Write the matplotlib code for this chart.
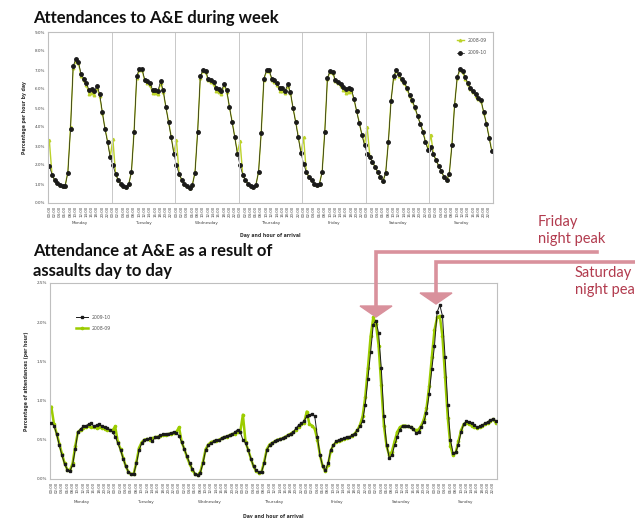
import matplotlib
matplotlib.use("Agg")
from matplotlib import pyplot as plt
from matplotlib.lines import Line2D
from matplotlib.patches import Polygon
import numpy as np

days = ["Monday", "Tuesday", "Wednesday", "Thursday", "Friday", "Saturday", "Sunday"]
hour_labels = ["%02d:00" % h for h in range(0, 24, 2)]

# percentage per hour by day (top chart)
top_0910 = [
    [1.95, 1.5, 1.2, 1.05, 0.95, 0.88, 0.92, 1.6, 3.9, 7.2, 7.6, 7.4, 6.8, 6.55, 6.3, 5.95, 6.0, 5.9, 6.15, 5.75, 4.8, 3.9, 3.2, 2.4],
    [1.98, 1.54, 1.2, 1.02, 0.88, 0.82, 1.0, 1.63, 3.75, 6.7, 7.05, 7.05, 6.5, 6.4, 6.3, 5.96, 5.96, 5.9, 6.4, 5.93, 5.05, 4.26, 3.47, 2.6],
    [1.98, 1.52, 1.22, 1.0, 0.88, 0.8, 0.95, 1.6, 3.74, 6.67, 7.0, 6.95, 6.54, 6.45, 6.37, 6.07, 6.0, 5.9, 6.28, 5.93, 5.05, 4.26, 3.47, 2.6],
    [1.98, 1.5, 1.2, 1.02, 0.88, 0.82, 0.95, 1.65, 3.7, 6.55, 6.98, 6.98, 6.55, 6.45, 6.3, 6.05, 6.05, 5.9, 6.25, 5.85, 5.0, 4.25, 3.45, 2.62],
    [2.07, 1.63, 1.37, 1.19, 1.02, 0.93, 1.02, 1.63, 3.74, 6.6, 6.95, 6.9, 6.45, 6.37, 6.28, 6.1, 6.0, 6.07, 6.02, 5.5, 4.84, 4.2, 3.6, 3.04],
    [2.6, 2.4, 2.15, 1.9, 1.62, 1.35, 1.15, 1.6, 3.2, 5.35, 6.67, 7.0, 6.77, 6.54, 6.37, 6.07, 5.7, 5.4, 5.05, 4.6, 4.17, 3.74, 3.2, 2.8],
    [2.95, 2.56, 2.25, 1.95, 1.68, 1.37, 1.19, 1.54, 3.04, 5.14, 6.63, 7.07, 6.95, 6.63, 6.3, 6.07, 5.9, 5.72, 5.54, 5.4, 4.79, 4.17, 3.44, 2.74],
]
top_0809 = [
    [3.3, 1.5, 1.2, 1.05, 0.95, 0.88, 0.92, 1.65, 4.0, 7.1, 7.5, 7.35, 6.7, 6.45, 6.2, 5.75, 5.8, 5.7, 6.05, 5.65, 4.75, 3.95, 3.25, 2.45],
    [3.35, 1.55, 1.2, 1.02, 0.88, 0.82, 1.0, 1.65, 3.8, 6.6, 7.0, 7.0, 6.45, 6.3, 6.2, 5.8, 5.8, 5.75, 6.3, 5.85, 5.05, 4.3, 3.5, 2.65],
    [3.3, 1.52, 1.22, 1.0, 0.88, 0.8, 0.95, 1.62, 3.8, 6.6, 6.95, 6.9, 6.45, 6.35, 6.25, 5.9, 5.85, 5.75, 6.2, 5.85, 5.05, 4.3, 3.5, 2.65],
    [3.25, 1.5, 1.2, 1.02, 0.88, 0.82, 0.95, 1.65, 3.75, 6.5, 6.95, 6.95, 6.5, 6.35, 6.2, 5.9, 5.9, 5.8, 6.15, 5.8, 5.0, 4.3, 3.5, 2.65],
    [3.45, 1.65, 1.37, 1.19, 1.02, 0.93, 1.02, 1.65, 3.8, 6.55, 6.9, 6.85, 6.4, 6.3, 6.15, 5.95, 5.8, 5.85, 5.9, 5.45, 4.85, 4.25, 3.6, 3.1],
    [4.0, 2.45, 2.15, 1.9, 1.62, 1.35, 1.15, 1.62, 3.25, 5.4, 6.6, 6.95, 6.7, 6.45, 6.3, 6.0, 5.65, 5.35, 5.0, 4.6, 4.2, 3.8, 3.25, 2.85],
    [3.6, 2.6, 2.25, 1.95, 1.68, 1.37, 1.19, 1.55, 3.1, 5.2, 6.6, 7.0, 6.9, 6.55, 6.25, 6.0, 5.85, 5.65, 5.5, 5.35, 4.75, 4.2, 3.5, 2.8],
]

# percentage of assault attendances per hour of the week (bottom chart)
bot_0910 = [
    [0.72, 0.68, 0.57, 0.43, 0.3, 0.19, 0.12, 0.1, 0.18, 0.38, 0.6, 0.64, 0.67, 0.68, 0.7, 0.71, 0.67, 0.69, 0.7, 0.67, 0.66, 0.65, 0.63, 0.6],
    [0.54, 0.46, 0.37, 0.26, 0.16, 0.09, 0.06, 0.07, 0.2, 0.37, 0.46, 0.5, 0.51, 0.52, 0.48, 0.53, 0.54, 0.56, 0.57, 0.57, 0.58, 0.59, 0.6, 0.59],
    [0.55, 0.47, 0.38, 0.29, 0.2, 0.13, 0.07, 0.05, 0.08, 0.2, 0.37, 0.43, 0.46, 0.48, 0.5, 0.5, 0.52, 0.54, 0.55, 0.56, 0.57, 0.6, 0.63, 0.6],
    [0.5, 0.46, 0.37, 0.26, 0.16, 0.11, 0.09, 0.09, 0.2, 0.37, 0.43, 0.46, 0.48, 0.5, 0.51, 0.52, 0.54, 0.56, 0.58, 0.6, 0.65, 0.69, 0.71, 0.74],
    [0.8, 0.82, 0.83, 0.8, 0.54, 0.3, 0.16, 0.11, 0.2, 0.37, 0.43, 0.48, 0.5, 0.51, 0.52, 0.54, 0.53, 0.56, 0.58, 0.62, 0.67, 0.74, 0.95, 1.28],
    [1.62, 1.97, 2.02, 1.86, 1.42, 0.8, 0.44, 0.27, 0.3, 0.43, 0.53, 0.63, 0.68, 0.67, 0.67, 0.66, 0.64, 0.59, 0.6, 0.66, 0.73, 0.84, 1.08, 1.4],
    [1.7, 2.13, 2.22, 2.08, 1.55, 0.95, 0.5, 0.33, 0.34, 0.44, 0.6, 0.7, 0.74, 0.73, 0.71, 0.69, 0.66, 0.67, 0.69, 0.71, 0.73, 0.75, 0.77, 0.74],
]
bot_0809 = [
    [0.92, 0.7, 0.58, 0.45, 0.32, 0.2, 0.12, 0.11, 0.2, 0.42, 0.6, 0.63, 0.65, 0.66, 0.67, 0.66, 0.66, 0.65, 0.66, 0.65, 0.64, 0.63, 0.62, 0.62],
    [0.67, 0.47, 0.38, 0.27, 0.16, 0.09, 0.06, 0.07, 0.22, 0.4, 0.47, 0.5, 0.51, 0.5, 0.52, 0.53, 0.54, 0.55, 0.56, 0.56, 0.57, 0.58, 0.59, 0.6],
    [0.66, 0.47, 0.38, 0.28, 0.19, 0.12, 0.06, 0.05, 0.09, 0.22, 0.38, 0.44, 0.47, 0.48, 0.49, 0.5, 0.52, 0.53, 0.54, 0.56, 0.57, 0.58, 0.6, 0.6],
    [0.82, 0.47, 0.37, 0.26, 0.16, 0.1, 0.08, 0.09, 0.22, 0.38, 0.44, 0.46, 0.48, 0.5, 0.51, 0.52, 0.54, 0.56, 0.58, 0.6, 0.63, 0.66, 0.7, 0.72],
    [0.86, 0.7, 0.68, 0.64, 0.5, 0.3, 0.16, 0.1, 0.18, 0.36, 0.43, 0.47, 0.49, 0.5, 0.51, 0.52, 0.53, 0.55, 0.58, 0.62, 0.69, 0.8, 1.05, 1.42],
    [1.82, 2.06, 1.98, 1.7, 1.2, 0.68, 0.42, 0.3, 0.35, 0.48, 0.6, 0.66, 0.68, 0.68, 0.67, 0.66, 0.64, 0.62, 0.63, 0.68, 0.76, 0.9, 1.18, 1.55],
    [1.9, 2.06, 2.08, 1.82, 1.3, 0.78, 0.42, 0.3, 0.34, 0.48, 0.62, 0.7, 0.72, 0.7, 0.68, 0.66, 0.65, 0.66, 0.68, 0.7, 0.72, 0.74, 0.76, 0.72],
]

W, H = 635, 518
fig = plt.figure(figsize=(W / 100, H / 100), dpi=100)
title_font = ["Lato", "DejaVu Sans"]
green = "#bcd22a"
green2 = "#9ccc00"
pink = "#d9919c"
red = "#b23b4e"


def fx(x):
    return x / W


def fy(y):
    return 1 - y / H


def style_axes(ax, ymax, ystep, ylabel):
    hours = np.arange(168)
    ax.set_xlim(-0.5, 167.5)
    ax.set_ylim(0, ymax)
    ax.set_xticks(hours[::2])
    ax.set_xticklabels(hour_labels * 7, rotation=90, fontsize=2.8, color="#444444")
    yt = np.arange(0, ymax + ystep / 2, ystep)
    ax.set_yticks(yt)
    ax.set_yticklabels(["%.1f%%" % v for v in yt], fontsize=3, color="#444444")
    ax.tick_params(length=0, pad=2)
    for s in ax.spines.values():
        s.set_color("#bfbfbf")
        s.set_linewidth(0.8)
    for i, d in enumerate(days):
        ax.text(i * 24 + 11.5, -0.115, d, transform=ax.get_xaxis_transform(),
                ha="center", va="center", fontsize=3, color="#444444")
    ax.text(0.5, -0.19, "Day and hour of arrival", transform=ax.transAxes,
            ha="center", va="center", fontsize=3.3, fontweight="bold", color="#333333")
    ax.set_ylabel(ylabel, fontsize=3.3, fontweight="bold", color="#333333", labelpad=6)


# top chart
ax1 = fig.add_axes([fx(48), fy(203), fx(445), 171 / H])
x = np.arange(168)
ax1.plot(x, np.concatenate(top_0809), color=green, lw=1.0, marker="^", ms=1.8,
         mec=green, mfc=green, label="2008-09")
ax1.plot(x, np.concatenate(top_0910), color="#1a1a1a", lw=0.5, marker="o", ms=2.5,
         mec="#1a1a1a", mfc="#1a1a1a", label="2009-10")
for d in range(1, 7):
    ax1.axvline(d * 24 - 0.5, color="#c8c8c8", lw=0.7)
style_axes(ax1, 9, 1, "Percentage per hour by day")
ax1.legend(loc="upper right", bbox_to_anchor=(0.995, 0.99), fontsize=3.3, frameon=False,
           handlelength=1.6, labelspacing=1.6, labelcolor="#555555")

# bottom chart
ax2 = fig.add_axes([fx(50), fy(479), fx(447), 196 / H])
ax2.plot(x, np.concatenate(bot_0809), color=green2, lw=1.8, marker="o", ms=1.6,
         mec=green2, mfc=green2, label="2008-09", zorder=2)
ax2.plot(x, np.concatenate(bot_0910), color="#1a1a1a", lw=0.7, marker="s", ms=2.0,
         mec="#1a1a1a", mfc="#1a1a1a", label="2009-10", zorder=3)
style_axes(ax2, 2.5, 0.5, "Percentage of attendances (per hour)")
h, l = ax2.get_legend_handles_labels()
ax2.legend(h[::-1], l[::-1], loc="upper left", bbox_to_anchor=(0.05, 0.86), fontsize=3.3,
           frameon=False, handlelength=2.6, labelspacing=1.4, labelcolor="#555555")

# titles
fig.text(fx(33), fy(18), "Attendances to A&E during week", family=title_font,
         fontweight="bold", fontsize=12, va="center", color="#111111")
fig.text(fx(33), fy(261), "Attendance at A&E as a result of\nassaults day to day",
         family=title_font, fontweight="bold", fontsize=12, va="center",
         linespacing=1.35, color="#111111")

# peak call-outs
fig.add_artist(Line2D([fx(376), fx(376), fx(597)], [fy(307), fy(252), fy(252)],
                      color=pink, lw=2.6, solid_joinstyle="miter"))
fig.add_artist(Polygon([[fx(360), fy(306)], [fx(392), fy(306)], [fx(376), fy(317)]],
                       closed=True, color=pink, transform=fig.transFigure))
fig.add_artist(Line2D([fx(436), fx(436), fx(640)], [fy(294), fy(262), fy(262)],
                      color=pink, lw=2.6, solid_joinstyle="miter"))
fig.add_artist(Polygon([[fx(420), fy(293)], [fx(452), fy(293)], [fx(436), fy(304)]],
                       closed=True, color=pink, transform=fig.transFigure))
fig.text(fx(538), fy(215), "Friday\nnight peak", family=title_font, fontsize=10.5,
         color=red, va="top", linespacing=1.3)
# the reference image itself crops this label at the right edge
fig.text(fx(575), fy(266), "Saturday\nnight peak", family=title_font, fontsize=10.5,
         color=red, va="top", linespacing=1.3)

fig.savefig("out.png", dpi=100, facecolor="white")
